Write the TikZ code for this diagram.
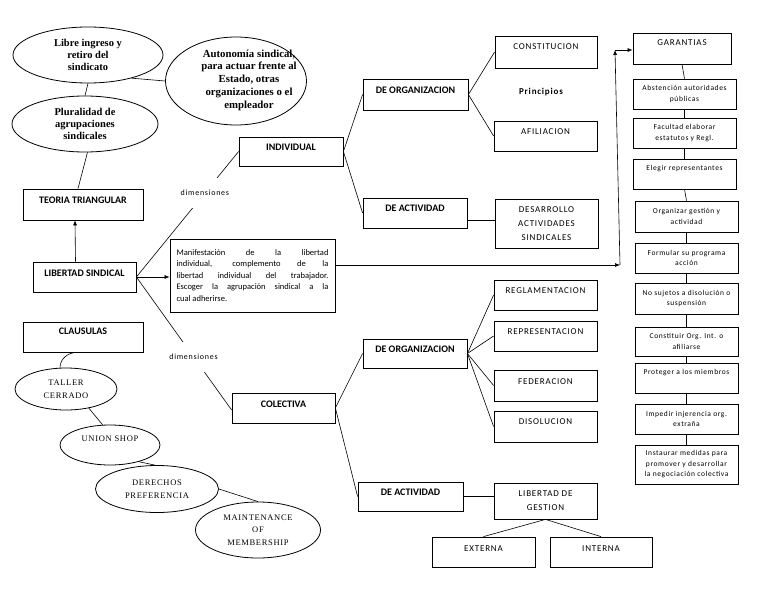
\documentclass[tikz,border=0pt]{standalone}
\usepackage{fontspec}
\setmainfont{Carlito}
\newfontfamily\serifb{Liberation Serif}
\newfontfamily\serifsp{Liberation Serif}[LetterSpace=8]
\newfontfamily\spc{Carlito}[LetterSpace=9]
\newfontfamily\spr{Carlito}[LetterSpace=8]
\usetikzlibrary{shapes.geometric,arrows.meta}
\begin{document}
\begin{tikzpicture}[x=1pt,y=-1pt,line width=0.6pt,
  every node/.style={inner sep=0pt},
  box/.style 2 args={draw, rectangle, minimum width=#1, minimum height=#2, line width=0.8pt},
  bl/.style={font=\bfseries\fontsize{10}{12}\selectfont, text height=7pt, text depth=#1},
  cl/.style={font=\spc\fontsize{9}{11}\selectfont, text height=6pt, text depth=#1},
  cl2/.style={font=\spc\fontsize{9}{14}\selectfont, align=center},
  rc/.style={font=\spr\fontsize{7.5}{10.5}\selectfont, align=center},
  rt/.style={font=\spr\fontsize{7.5}{10.5}\selectfont, text height=5pt, text depth=#1},
  el/.style 2 args={draw, ellipse, minimum width=#1, minimum height=#2, line width=0.8pt},
  ser/.style={font=\serifb\bfseries\fontsize{10.5}{12}\selectfont, align=center},
  ssp/.style={font=\serifsp\fontsize{8.5}{12.5}\selectfont, align=center},
  dim/.style={font=\spc\fontsize{8}{9}\selectfont, fill=white, inner xsep=1pt, inner ysep=12pt},
  arr/.style={-{Latex[length=5pt,width=4pt]}},
]
\useasboundingbox (0,0) rectangle (768,594);

% top-left ellipses
\node[el={150}{56}, ser] (e1) at (88,55) {Libre ingreso y\\retiro del\\sindicato};
\node[el={146}{56}, ser] (e2) at (85,124) {Pluralidad de\\agrupaciones\\sindicales};
\node[el={141}{88}] (e3) at (236,81) {};
\node[ser, font=\serifb\bfseries\fontsize{10.8}{12.7}\selectfont] (e3t) at (249,80) {Autonomía sindical,\\para actuar frente al\\Estado, otras\\organizaciones o el\\empleador};

% left boxes
\node[box={120}{31}, bl=9pt] (teo) at (83,204.5) {TEORIA TRIANGULAR};
\node[box={103}{30}, bl=8pt] (lib) at (84.5,277) {LIBERTAD SINDICAL};
\node[box={165}{73}, font=\fontsize{8.5}{11.5}\selectfont, text width=152pt, align=justify] (man) at (252.5,275.5)
  {\hyphenpenalty=10000 Manifestación de la libertad\linebreak individual, complemento de la\linebreak libertad individual del trabajador.\linebreak Escoger la agrupación sindical a la\linebreak cual adherirse.};
\node[box={104}{29}, bl=9pt] (ind) at (291,151.5) {INDIVIDUAL};
\node[box={103}{30}, bl=8pt] (col) at (283.5,408) {COLECTIVA};
\node[box={120}{30}, bl=12pt] (cla) at (83,337) {CLAUSULAS};

% individual branch
\node[box={105}{31}, bl=9pt] (do1) at (415.5,94.5) {DE ORGANIZACION};
\node[box={104}{30}, bl=10pt] (da1) at (415,213) {DE ACTIVIDAD};
\node[box={102}{32}, cl=10pt] (cons) at (546,52) {CONSTITUCION};
\node[font=\bfseries\fontsize{9}{11}\selectfont] (pri) at (541,92) {\addfontfeature{LetterSpace=9}Principios};
\node[box={103}{30}, cl=10pt] (afi) at (545.5,136) {AFILIACION};
\node[box={103}{49}, cl2] (des) at (546.5,223.5) {DESARROLLO\\ACTIVIDADES\\SINDICALES};

% colectiva branch
\node[box={104}{29}, bl=9pt] (do2) at (415,353.5) {DE ORGANIZACION};
\node[box={105}{29}, bl=9pt] (da2) at (410.5,496.5) {DE ACTIVIDAD};
\node[box={103}{30}, cl=10pt] (reg) at (545.5,295) {REGLAMENTACION};
\node[box={103}{30}, cl=10pt] (rep) at (545.5,336) {REPRESENTACION};
\node[box={103}{31}, cl=9pt] (fed) at (545.5,385.5) {FEDERACION};
\node[box={103}{31}, cl=11pt] (dis) at (545.5,426.5) {DISOLUCION};
\node[box={103}{36}, cl2] (lg) at (545.5,501) {LIBERTAD DE\\GESTION};
\node[box={103}{30}, cl=8pt] (ext) at (483.5,552) {EXTERNA};
\node[box={102}{30}, cl=8pt] (int) at (601,552) {INTERNA};

% garantias column
\node[box={98}{31}, cl=11pt] (gar) at (682,48.5) {GARANTIAS};
\node[box={103}{30}, rc] (g1) at (684.5,94) {Abstención autoridades\\públicas};
\node[box={103}{30}, rc] (g2) at (684.5,133) {Facultad elaborar\\estatutos y Regl.};
\node[box={103}{30}, rt=12pt] (g3) at (684.5,174) {Elegir representantes};
\node[box={103}{31}, rc] (g4) at (686.5,216.5) {Organizar gestión y\\actividad};
\node[box={103}{30}, rc] (g5) at (686.5,258) {Formular su programa\\acción};
\node[box={103}{31}, rc] (g6) at (686.5,298.5) {No sujetos a disolución o\\suspensión};
\node[box={103}{29}, rc] (g7) at (686.5,341.5) {Constituir Org. Int. o\\afiliarse};
\node[box={103}{30}, rt=13pt] (g8) at (686.5,378) {Proteger a los miembros};
\node[box={103}{30}, rc] (g9) at (686.5,419) {Impedir injerencia org.\\extraña};
\node[box={103}{39}, rc] (g10) at (686.5,464.5) {Instaurar medidas para\\promover y desarrollar\\la negociación colectiva};

% bottom-left ellipses
\node[el={102}{42}, ssp] (tal) at (66,389) {TALLER\\CERRADO};
\node[el={100}{40}, ssp, text height=6pt, text depth=14pt] (uni) at (110,445) {UNION SHOP};
\node[el={123}{47}, ssp] (der) at (157,489) {DERECHOS\\PREFERENCIA};
\node[el={125}{56}, ssp] (mai) at (258,530) {MAINTENANCE\\OF\\MEMBERSHIP};

\coordinate (c1) at (620,265);
\coordinate (c2) at (615,50);

% connectors
\draw (e1.south) -- (e2.north);
\draw (e1.-28) -- (e3.west);
\draw (e2.-85) -- ([xshift=-5pt]teo.north);
\draw[arr] ([xshift=-9pt]lib.north) -- ([xshift=-8pt]teo.south);
\draw[arr] (lib.east) -- (lib.east -| man.west);
\draw (lib.east) -- node[dim, pos=0.67] (d1) {dimensiones} (ind.west);
\draw (lib.east) -- node[dim, pos=0.6] (d2) {dimensiones} ([yshift=-2pt]col.west);
\draw (ind.east) -- (do1.west);
\draw (ind.east) -- (da1.west);
\draw (do1.east) -- (cons.west);
\draw (do1.east) -- (afi.west);
\draw ([yshift=-7pt]da1.east) -- ([yshift=-7pt]da1.east -| des.west);
\draw (col.east) -- (do2.west);
\draw (col.east) -- (da2.west);
\draw (do2.east) -- (reg.west);
\draw (do2.east) -- (rep.west);
\draw (do2.east) -- (fed.west);
\draw (do2.east) -- (dis.west);
\draw (da2.east) -- (da2.east -| lg.west);
\draw (lg.south) -- (ext.north);
\draw (lg.south) -- (int.north);
\draw[arr] ([yshift=10.5pt]man.east) -- (c1);
\draw[arr] (c1) -- (c2);
\draw[arr] (c2) -- (c2 -| gar.west);
\draw (gar.south) -- (g1.north);
\draw (g1.south) -- (g2.north);
\draw (g2.south) -- (g3.north);
\draw (g3.south) -- (g4.north);
\draw (g4.south) -- (g5.north);
\draw (g5.south) -- (g6.north);
\draw (g6.south) -- (g7.north);
\draw (g7.south) -- (g8.north);
\draw (g8.south) -- (g9.north);
\draw (g9.south) -- (g10.north);
\draw ([xshift=-6pt]cla.south) to[out=180,in=90] ([xshift=-6pt]tal.north);
\draw (tal.-40) -- (uni.110);
\draw (uni.-30) -- (der.95);
\draw (der.east) -- (mai.north);
\end{tikzpicture}
\end{document}
